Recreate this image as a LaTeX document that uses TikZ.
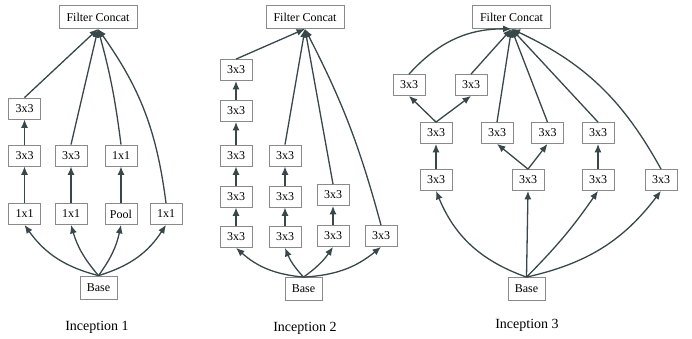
\documentclass[tikz,border=0pt]{standalone}
\usepackage{fontspec}
\setmainfont{Liberation Serif}
\usetikzlibrary{arrows.meta}
\definecolor{cedge}{HTML}{37474A}
\definecolor{cbox}{HTML}{8A8A8A}

\begin{document}
\begin{tikzpicture}[x=1pt,y=-1pt,
  font=\fontsize{12}{14}\selectfont,
  box/.style={draw=cbox,line width=0.8pt,minimum width=32pt,minimum height=21pt,inner sep=2pt},
  catbox/.style={box,minimum width=78pt,minimum height=23pt},
  basebox/.style={box,minimum width=37pt,minimum height=23pt},
  lbl/.style={font=\fontsize{14}{16}\selectfont},
  arr/.style={-{Latex[length=8.5pt,width=7pt]},draw=cedge,line width=1.3pt}]
  \useasboundingbox (0,0) rectangle (692,339);

  % Inception 1
  \node[catbox] (cat1) at (98,17) {Filter Concat};
  \node[box] (i1a) at (24.5,214) {1x1};
  \node[box] (i1b) at (24.5,155.5) {3x3};
  \node[box] (i1c) at (24.5,108.5) {3x3};
  \node[box] (i1d) at (71,214) {1x1};
  \node[box] (i1e) at (71,155.5) {3x3};
  \node[box] (i1f) at (121,214) {Pool};
  \node[box] (i1g) at (121,155.5) {1x1};
  \node[box] (i1h) at (166,214) {1x1};
  \node[basebox] (base1) at (98.5,287.5) {Base};
  \node[lbl] (lbl1) at (97,327) {Inception 1};
  \draw[arr] (base1.north) to[bend left=20] (i1a.south);
  \draw[arr] (base1.north) to[bend left=12] (i1d.south);
  \draw[arr] (base1.north) to[bend right=12] (i1f.south);
  \draw[arr] (base1.north) to[bend right=20] (i1h.south);
  \draw[arr] (i1a) -- (i1b);
  \draw[arr] (i1b) -- (i1c);
  \draw[arr] (i1d) -- (i1e);
  \draw[arr] (i1f) -- (i1g);
  \draw[arr] (i1c.north) -- (cat1.south);
  \draw[arr] (i1e.north) -- (cat1.south);
  \draw[arr] (i1g.north) to[bend right=4] (cat1.south);
  \draw[arr] (i1h.north) to[bend right=14] (cat1.south);

  % Inception 2
  \node[catbox] (cat2) at (305,17) {Filter Concat};
  \node[box] (i2a) at (236,237) {3x3};
  \node[box] (i2b) at (236,196.5) {3x3};
  \node[box] (i2c) at (236,155.5) {3x3};
  \node[box] (i2d) at (236,111) {3x3};
  \node[box] (i2e) at (236,70) {3x3};
  \node[box] (i2f) at (285,237) {3x3};
  \node[box] (i2g) at (285,196.5) {3x3};
  \node[box] (i2h) at (285,155.5) {3x3};
  \node[box] (i2i) at (333,236) {3x3};
  \node[box] (i2j) at (333,195) {3x3};
  \node[box] (i2k) at (381,236) {3x3};
  \node[basebox] (base2) at (303.5,289) {Base};
  \node[lbl] (lbl2) at (305,328) {Inception 2};
  \draw[arr] (base2.north) to[bend left=18] (i2a.south);
  \draw[arr] (base2.north) to[bend left=10] (i2f.south);
  \draw[arr] (base2.north) to[bend right=10] (i2i.south);
  \draw[arr] (base2.north) to[bend right=18] (i2k.south);
  \draw[arr] (i2a) -- (i2b);
  \draw[arr] (i2b) -- (i2c);
  \draw[arr] (i2c) -- (i2d);
  \draw[arr] (i2d) -- (i2e);
  \draw[arr] (i2f) -- (i2g);
  \draw[arr] (i2g) -- (i2h);
  \draw[arr] (i2i) -- (i2j);
  \draw[arr] (i2e.north) -- (cat2.south);
  \draw[arr] (i2h.north) -- (cat2.south);
  \draw[arr] (i2j.north) -- (cat2.south);
  \draw[arr] (i2k.north) to[bend right=6] (cat2.south);

  % Inception 3
  \node[catbox] (cat3) at (511.5,17) {Filter Concat};
  \node[box] (i3a) at (409,85) {3x3};
  \node[box] (i3b) at (471,85) {3x3};
  \node[box] (i3c) at (436,133) {3x3};
  \node[box] (i3d) at (497,133) {3x3};
  \node[box] (i3e) at (547.5,133) {3x3};
  \node[box] (i3f) at (598,133) {3x3};
  \node[box] (i3g) at (436,180) {3x3};
  \node[box] (i3h) at (528,180) {3x3};
  \node[box] (i3i) at (598,180) {3x3};
  \node[box] (i3j) at (661,180) {3x3};
  \node[basebox] (base3) at (526.5,289) {Base};
  \node[lbl] (lbl3) at (527,325) {Inception 3};
  \draw[arr] (base3.north) to[bend left=24] (i3g.south);
  \draw[arr] (base3.north) -- (i3h.south);
  \draw[arr] (base3.north) to[bend right=5] (i3i.south);
  \draw[arr] (base3.north) to[bend right=20] (i3j.south);
  \draw[arr] (i3g) -- (i3c);
  \draw[arr] (i3h.north) -- (i3d.south);
  \draw[arr] (i3h.north) -- (i3e.south);
  \draw[arr] (i3i) -- (i3f);
  \draw[arr] (i3c.north) -- (i3a.south);
  \draw[arr] (i3c.north) -- (i3b.south);
  \draw[arr] (i3a.north) to[bend left=24] (cat3.south);
  \draw[arr] (i3b.north) -- (cat3.south);
  \draw[arr] (i3d.north) -- (cat3.south);
  \draw[arr] (i3e.north) -- (cat3.south);
  \draw[arr] (i3f.north) -- (cat3.south);
  \draw[arr] (i3j.north) to[bend right=18] (cat3.south);
\end{tikzpicture}
\end{document}
